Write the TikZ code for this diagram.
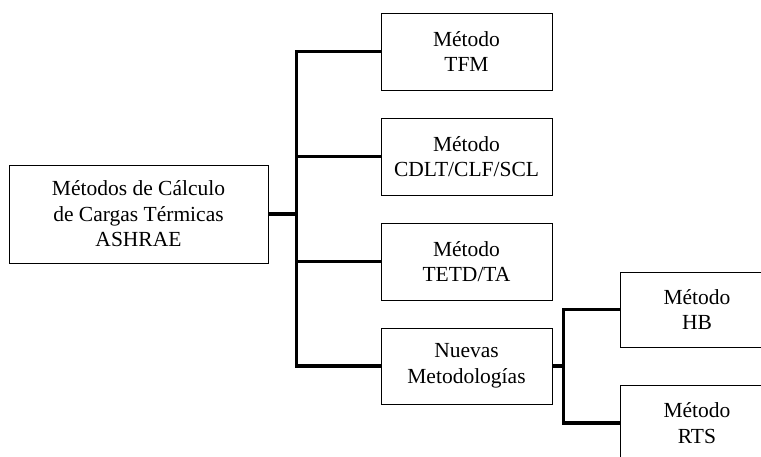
\documentclass[tikz,border=0pt]{standalone}
\usepackage{fontspec}
\setmainfont{Liberation Serif}
\begin{document}
\begin{tikzpicture}[x=1pt,y=-1pt,
  box/.style={draw, line width=0.9pt, inner sep=0pt, align=center,
    font=\fontsize{21.5}{25.5}\selectfont},
  conn/.style={line width=3.2pt, line cap=rect},
  link/.style={line width=3.2pt}]
\clip (0,0) rectangle (761,456);
\fill[white] (0,0) rectangle (761,456);
\node[box, minimum width=259pt, minimum height=98pt] (root) at (138.5,214) {Métodos de Cálculo\\de Cargas Térmicas\\ASHRAE};
\node[box, minimum width=171pt, minimum height=77pt] (tfm) at (466.5,51.5) {Método\\TFM};
\node[box, minimum width=171pt, minimum height=77pt] (cdlt) at (466.5,156.5) {Método\\CDLT/CLF/SCL};
\node[box, minimum width=171pt, minimum height=77pt] (tetd) at (466.5,261.5) {Método\\TETD/TA};
\node[box, minimum width=171pt, minimum height=76pt] (nm) at (466.5,366) {Nuevas\\Metodologías};
\node[box, minimum width=154pt, minimum height=75pt] (hb) at (697,309.5) {Método\\HB};
\node[box, minimum width=154pt, minimum height=75pt] (rts) at (697,423) {Método\\RTS};
\coordinate (j1) at ([xshift=28pt]root.east);
\coordinate (j2) at ([xshift=11pt]nm.east);
\draw[link] (root.east) -- (j1);
\draw[conn] (tfm.west -| j1) -- (nm.west -| j1);
\draw[link] (tfm.west -| j1) -- (tfm.west);
\draw[link] (cdlt.west -| j1) -- (cdlt.west);
\draw[link] (tetd.west -| j1) -- (tetd.west);
\draw[link] (nm.west -| j1) -- (nm.west);
\draw[link] (nm.east) -- (j2);
\draw[conn] (hb.west -| j2) -- (rts.west -| j2);
\draw[link] (hb.west -| j2) -- (hb.west);
\draw[link] (rts.west -| j2) -- (rts.west);
\end{tikzpicture}
\end{document}
